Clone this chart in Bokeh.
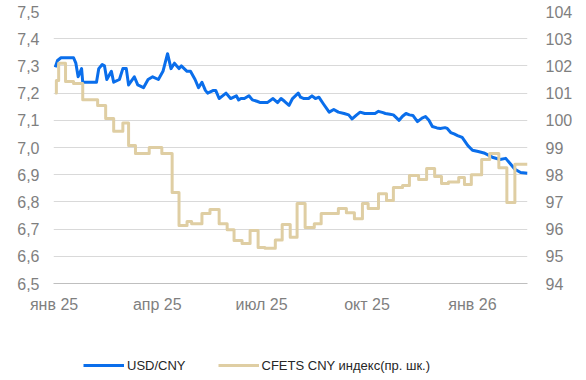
import pandas as pd
from bokeh.plotting import figure
from bokeh.layouts import column
from bokeh.models import (Range1d, LinearAxis, FixedTicker, CustomJSTickFormatter,
                          Legend, LegendItem, ColumnDataSource)
from bokeh.embed import file_html
from bokeh.resources import INLINE

# ---- data (day offsets from 2025-01-01) ----
usd_days = [1, 3, 6, 11, 17, 19, 21, 22, 24, 25,
            32, 37, 39, 42, 44, 46, 50, 52, 57, 60,
            63, 65, 70, 73, 78, 82, 86, 91, 95, 99,
            102, 105, 109, 111, 116, 119, 123, 126, 129, 132,
            134, 139, 141, 144, 147, 150, 154, 159, 161, 163,
            166, 170, 173, 177, 180, 186, 191, 195, 198, 201,
            205, 208, 213, 215, 218, 222, 225, 228, 231, 235,
            240, 244, 248, 253, 257, 260, 264, 267, 271, 274,
            280, 283, 287, 289, 293, 296, 301, 304, 307, 310,
            313, 317, 321, 324, 327, 330, 334, 337, 341, 343,
            346, 349, 352, 356, 361, 365, 370, 375, 378, 383,
            389, 394, 398, 402, 407, 413]
usd_vals = [7.295, 7.32, 7.33, 7.33, 7.33, 7.31, 7.26, 7.27, 7.29, 7.24,
            7.24, 7.24, 7.29, 7.305, 7.30, 7.25, 7.28, 7.24, 7.25, 7.29,
            7.29, 7.23, 7.26, 7.23, 7.22, 7.25, 7.26, 7.25, 7.28, 7.345,
            7.29, 7.31, 7.29, 7.30, 7.28, 7.28, 7.25, 7.22, 7.24, 7.21,
            7.20, 7.21, 7.21, 7.18, 7.19, 7.20, 7.18, 7.19, 7.175, 7.18,
            7.18, 7.19, 7.175, 7.17, 7.165, 7.165, 7.18, 7.165, 7.18, 7.17,
            7.155, 7.18, 7.20, 7.185, 7.18, 7.18, 7.19, 7.18, 7.185, 7.16,
            7.13, 7.14, 7.13, 7.125, 7.12, 7.105, 7.12, 7.13, 7.125, 7.125,
            7.125, 7.133, 7.128, 7.125, 7.122, 7.12, 7.10, 7.115, 7.125, 7.12,
            7.118, 7.095, 7.108, 7.114, 7.10, 7.077, 7.072, 7.07, 7.073, 7.07,
            7.055, 7.05, 7.044, 7.037, 7.007, 6.99, 6.985, 6.98, 6.974, 6.963,
            6.956, 6.96, 6.94, 6.92, 6.908, 6.905]

cfets_days = [1, 2, 4, 10, 17, 25, 38, 45, 52, 60,
              65, 71, 83, 94, 103, 109, 116, 120, 129, 136,
              144, 151, 157, 164, 171, 178, 184, 193, 199, 206,
              212, 219, 227, 233, 248, 255, 262, 269, 274, 283,
              290, 296, 304, 310, 318, 325, 332, 338, 344, 353,
              358, 364, 373, 380, 388, 395, 402, 413]
cfets_vals = [101.0, 101.46, 102.1, 101.43, 101.35, 100.76, 100.54, 100.07, 99.6, 99.9,
              99.07, 98.78, 99.0, 98.78, 97.35, 96.13, 96.28, 96.2, 96.57, 96.72,
              96.2, 95.98, 95.58, 95.47, 95.95, 95.32, 95.3, 95.6, 96.17, 95.7,
              96.94, 96.06, 96.2, 96.57, 96.76, 96.6, 96.38, 96.94, 96.76, 97.3,
              97.05, 97.53, 97.6, 97.97, 97.82, 98.23, 97.93, 97.68, 97.73, 97.9,
              97.64, 98.0, 98.56, 98.78, 98.26, 96.98, 98.38, 98.38]

left_ticks = [6.5, 6.6, 6.7, 6.8, 6.9, 7.0, 7.1, 7.2, 7.3, 7.4, 7.5]
right_ticks = [94, 95, 96, 97, 98, 99, 100, 101, 102, 103, 104]
x_tick_dates = ["2025-01-01", "2025-04-01", "2025-07-01", "2025-10-01", "2026-01-01"]
month_labels = ["янв", "фев", "мар", "апр", "май", "июн",
                "июл", "авг", "сен", "окт", "ноя", "дек"]
series_labels = ["USD/CNY", "CFETS CNY индекс(пр. шк.)"]

base = pd.Timestamp("2025-01-01")
usd_src = ColumnDataSource(dict(x=base + pd.to_timedelta(usd_days, unit="D"), y=usd_vals))
cf_src = ColumnDataSource(dict(x=base + pd.to_timedelta(cfets_days, unit="D"), y=cfets_vals))

FONT = "Liberation Sans"
GRAY = "#7f7f7f"
BLUE = "#0A6EEB"
BEIGE = "#DFCEA3"

# ---- main chart ----
p = figure(frame_width=474, frame_height=272,
           x_axis_type="datetime",
           x_range=(pd.Timestamp("2024-12-31 12:00"), pd.Timestamp("2026-02-18")),
           y_range=Range1d(6.5, 7.5),
           output_backend="svg", toolbar_location=None,
           min_border_left=53, min_border_right=59,
           min_border_top=11, min_border_bottom=47)
p.outline_line_color = None
p.background_fill_color = "white"
p.border_fill_color = "white"

p.extra_y_ranges = {"idx": Range1d(94, 104)}

r1 = p.line("x", "y", source=usd_src, line_color=BLUE, line_width=3, line_join="round")
r2 = p.step("x", "y", source=cf_src, mode="after", y_range_name="idx",
            line_color=BEIGE, line_width=3, line_join="round")

p.xaxis.ticker = FixedTicker(ticks=[pd.Timestamp(d).value // 10**6 for d in x_tick_dates])
p.xaxis.formatter = CustomJSTickFormatter(args=dict(months=month_labels), code="""
const d = new Date(tick);
return months[d.getUTCMonth()] + ' ' + String(d.getUTCFullYear()).slice(2);
""")
p.xaxis.axis_line_color = "#bfbfbf"
p.xaxis.major_label_standoff = 12

p.yaxis.ticker = FixedTicker(ticks=left_ticks)
p.yaxis.formatter = CustomJSTickFormatter(code="return tick.toFixed(1).replace('.', ',');")
p.yaxis.axis_line_color = None
p.yaxis.major_label_standoff = 14

right = LinearAxis(y_range_name="idx", ticker=FixedTicker(ticks=right_ticks))
right.axis_line_color = None
right.major_label_standoff = 18
p.add_layout(right, "right")

for ax in [p.xaxis[0], p.yaxis[0], right]:
    ax.major_label_text_font = FONT
    ax.major_label_text_font_size = "16px"
    ax.major_label_text_color = GRAY
    ax.major_tick_line_color = None
    ax.minor_tick_line_color = None
    ax.major_tick_out = 0
    ax.major_tick_in = 0
    ax.minor_tick_out = 0
    ax.minor_tick_in = 0

p.xgrid.grid_line_color = None
p.ygrid.grid_line_color = "#d9d9d9"
p.ygrid.grid_line_width = 1

# ---- legend strip below the chart ----
pl = figure(width=586, height=50, min_border=0,
            x_range=(0, 1), y_range=(0, 1),
            x_axis_location=None, y_axis_location=None,
            output_backend="svg", toolbar_location=None)
pl.outline_line_color = None
pl.grid.visible = False
pl.background_fill_color = "white"
pl.border_fill_color = "white"
nan = float("nan")
k1 = pl.line(x=[nan], y=[nan], line_color=BLUE, line_width=3)
k2 = pl.line(x=[nan], y=[nan], line_color=BEIGE, line_width=3)

legend = Legend(items=[LegendItem(label=series_labels[0], renderers=[k1]),
                       LegendItem(label=series_labels[1], renderers=[k2])],
                orientation="horizontal", location=(30, 5),
                glyph_width=41, glyph_height=20, label_standoff=3, spacing=32,
                padding=0, margin=0, border_line_color=None,
                background_fill_alpha=0, inactive_fill_alpha=0,
                label_text_font=FONT, label_text_font_size="13px",
                label_text_color="#262626")
pl.add_layout(legend)

layout = column(p, pl, spacing=0)
layout.styles = {"position": "absolute", "left": "0px", "top": "0px"}

open("out.html", "w").write(file_html(layout, INLINE))
